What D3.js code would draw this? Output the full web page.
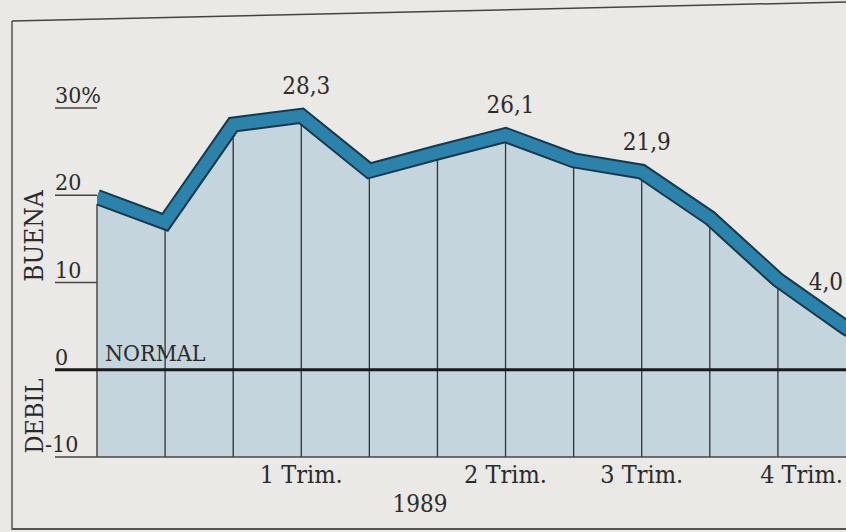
<!DOCTYPE html>
<html>
<head>
<meta charset="utf-8">
<script src="https://cdn.jsdelivr.net/npm/d3@7"></script>
<style>
  html, body { margin: 0; padding: 0; background: #ebe9e5; }
  svg { display: block; }
  text { font-family: "DejaVu Serif Condensed", "DejaVu Serif", serif; font-stretch: condensed; fill: #2b2b2b; }
</style>
</head>
<body>
<div id="chart"></div>
<script>
// periods along the x axis (one per vertical rule)
var periods = [0, 1, 2, 3, 4, 5, 6, 7, 8, 9, 10, 11];
var values = [19.0, 16.1, 27.3, 28.3, 22.0, 24.1, 26.1, 23.2, 21.9, 16.6, 9.5, 4.0];

var yTicks = [30, 20, 10, 0, -10];
var yTickLabels = ["30%", "20", "10", "0", "-10"];

var quarterAt = [3, 6, 8, 11];
var quarterLabels = ["1 Trim.", "2 Trim.", "3 Trim.", "4 Trim."];

var markAt = [3, 6, 8, 11];
var markLabels = ["28,3", "26,1", "21,9", "4,0"];

var W = 846, H = 532;

var svg = d3.select("#chart").append("svg")
  .attr("width", W).attr("height", H);

var x = d3.scalePoint().domain(periods).range([97, 846]);
var y = d3.scaleLinear().domain([-10, 30]).range([457, 108]);

svg.append("defs").append("clipPath").attr("id", "plot")
  .append("rect").attr("x", x(0)).attr("y", 0).attr("width", W).attr("height", H);

// frame
svg.append("line").attr("x1", 12).attr("y1", 21).attr("x2", 12).attr("y2", 530)
  .attr("stroke", "#555").attr("stroke-width", 1.5);
svg.append("line").attr("x1", 12).attr("y1", 21).attr("x2", 846).attr("y2", 2)
  .attr("stroke", "#444").attr("stroke-width", 1.5);
svg.append("line").attr("x1", 12).attr("y1", 529).attr("x2", 846).attr("y2", 529)
  .attr("stroke", "#555").attr("stroke-width", 2);

// filled area down to -10
var area = d3.area()
  .x(function(d, i) { return x(periods[i]); })
  .y0(y(-10))
  .y1(function(d) { return y(d); });

svg.append("path").datum(values)
  .attr("d", area)
  .attr("fill", "#c5d5de");

// vertical rules
svg.selectAll("line.rule")
  .data(values.slice(0, 11))
  .enter().append("line")
  .attr("class", "rule")
  .attr("x1", function(d, i) { return x(periods[i]); })
  .attr("x2", function(d, i) { return x(periods[i]); })
  .attr("y1", function(d) { return y(d); })
  .attr("y2", y(-10))
  .attr("stroke", "#333").attr("stroke-width", 1.3);

// tick underlines + labels
svg.selectAll("line.tick")
  .data(yTicks)
  .enter().append("line")
  .attr("class", "tick")
  .attr("x1", 55)
  .attr("x2", function(d) { return (d === 0 || d === -10) ? W : 97; })
  .attr("y1", function(d) { return y(d); })
  .attr("y2", function(d) { return y(d); })
  .attr("stroke", function(d) { return d === 0 ? "#1a1a1a" : "#444"; })
  .attr("stroke-width", function(d) { return d === 0 ? 3 : 1.3; });

svg.selectAll("text.ytick")
  .data(yTicks)
  .enter().append("text")
  .attr("class", "ytick")
  .attr("x", function(d) { return d < 0 ? 45 : 55; })
  .attr("y", function(d) { return y(d) - 5; })
  .attr("font-size", 23)
  .text(function(d, i) { return yTickLabels[i]; });

// thick band sitting on top of the line
var band = d3.line()
  .x(function(d, i) { return i < periods.length ? x(periods[i]) : W + 20; })
  .y(function(d) { return y(d) - 7; });
var bandData = values.concat([values[values.length - 1] - 1.2]);

var g = svg.append("g").attr("clip-path", "url(#plot)");
g.append("path").datum(bandData)
  .attr("d", band)
  .attr("fill", "none")
  .attr("stroke", "#17394b").attr("stroke-width", 16)
  .attr("stroke-linejoin", "miter");
g.append("path").datum(bandData)
  .attr("d", band)
  .attr("fill", "none")
  .attr("stroke", "#2b82ab").attr("stroke-width", 12)
  .attr("stroke-linejoin", "miter");

// value labels
svg.selectAll("text.mark")
  .data(markAt)
  .enter().append("text")
  .attr("class", "mark")
  .attr("x", function(d, i) { return i === 3 ? x(d) - 3 : x(d) + 5; })
  .attr("y", function(d, i) { return i === 3 ? y(values[d]) - 45 : y(values[d]) - 29; })
  .attr("text-anchor", function(d, i) { return i === 3 ? "end" : "middle"; })
  .attr("font-size", 24)
  .text(function(d, i) { return markLabels[i]; });

// x labels
svg.selectAll("text.quarter")
  .data(quarterAt)
  .enter().append("text")
  .attr("class", "quarter")
  .attr("x", function(d, i) { return i === 3 ? x(d) - 3 : x(d); })
  .attr("y", 483)
  .attr("text-anchor", function(d, i) { return i === 3 ? "end" : "middle"; })
  .attr("font-size", 25)
  .text(function(d, i) { return quarterLabels[i]; });

svg.append("text").attr("x", 420).attr("y", 512)
  .attr("text-anchor", "middle").attr("font-size", 24).text("1989");

svg.append("text").attr("x", 105).attr("y", y(0) - 9)
  .attr("font-size", 23).text("NORMAL");

svg.append("text").attr("transform", "translate(43,236) rotate(-90)")
  .attr("text-anchor", "middle").attr("font-size", 26).text("BUENA");
svg.append("text").attr("transform", "translate(43,416) rotate(-90)")
  .attr("text-anchor", "middle").attr("font-size", 25).text("DEBIL");
</script>
</body>
</html>
